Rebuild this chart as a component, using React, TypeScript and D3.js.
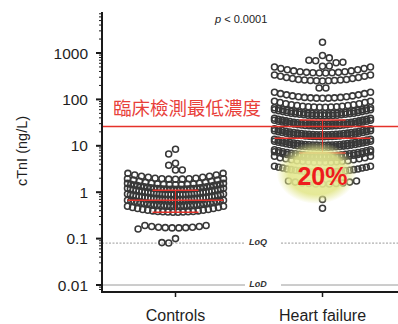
import React from 'react';
import * as d3 from 'd3';

// Categories on the x axis
const groups = ['Controls', 'Heart failure'];

// cTnI readings (ng/L) grouped into rows of identical values, with the number of subjects per row
const controlValues = [8.4, 6.6, 4.2, 3.8, 3.0, 1.9, 1.45, 1.15, 0.9, 0.68, 0.5, 0.37, 0.17, 0.135, 0.1, 0.08];
const controlCounts = [1, 1, 1, 1, 2, 15, 17, 30, 34, 34, 30, 20, 10, 1, 1, 2];
const heartFailureValues = [
  1700, 880, 780, 680, 600, 520, 370, 250, 175, 106, 68,
  49, 44.5, 29, 26.4, 17.3, 15.7, 10.3, 9.3, 6.1, 5.5,
  4.4, 2.7, 1.5, 0.7, 0.45,
];
const heartFailureCounts = [
  1, 1, 1, 2, 2, 2, 16, 17, 2, 17, 18,
  24, 24, 26, 26, 26, 26, 26, 26, 24, 24,
  18, 24, 11, 1, 1,
];

// Summary statistics per group (median with interquartile range)
const medians = [0.67, 14.6];
const lowerQuartiles = [0.37, 7];
const upperQuartiles = [1.1, 36];

// Reference levels
const clinicalCutoff = 26;
const limitOfQuantitation = 0.08;
const limitOfDetection = 0.01;

const yTicks = [0.01, 0.1, 1, 10, 100, 1000];
const yTickLabels = ['0.01', '0.1', '1', '10', '100', '1000'];

const cutoffLabel = '臨床檢測最低濃度';
const shareLabel = '20%';
const pLabel = '< 0.0001';

const WIDTH = 398;
const HEIGHT = 324;
const AXIS_X = 102;
const AXIS_TOP = 12;
const AXIS_BOTTOM = 292;
const RIGHT = 398;

const HALF_WIDTH = 48; // half width of a dot column
const DOT_R = 3;
const MIN_DIST = 6.8;
const CURVE = 6;

const RED = '#e5322a';

type Dot = { x: number; y: number };

function layoutColumn(values: number[], counts: number[], cx: number, y: d3.ScaleLogarithmic<number, number>): Dot[] {
  const placed: Dot[] = [];
  const order = d3.range(values.length).sort((a, b) => values[b] - values[a]);
  for (const idx of order) {
    const n = counts[idx];
    const step = n > 1 ? Math.min(MIN_DIST, (2 * HALF_WIDTH) / (n - 1)) : 0;
    const half = (step * (n - 1)) / 2;
    const offsets = d3.range(n).map((i) => i * step - half);
    const yBase = y(values[idx]);
    const at = (o: number): Dot => ({ x: cx + o, y: yBase - CURVE * Math.pow(o / HALF_WIDTH, 2) });
    const collides = (shift: number) =>
      offsets.some((o) => {
        const p = at(o + shift);
        return placed.some((q) => Math.hypot(p.x - q.x, p.y - q.y) < MIN_DIST * 0.97);
      });
    let chosen = 0;
    const sStep = MIN_DIST / 2;
    if (collides(0)) {
      for (let k = 1; k * sStep + half <= HALF_WIDTH; k++) {
        const dir = idx % 2 === 0 ? 1 : -1;
        if (!collides(dir * k * sStep)) { chosen = dir * k * sStep; break; }
        if (!collides(-dir * k * sStep)) { chosen = -dir * k * sStep; break; }
      }
    }
    offsets.forEach((o) => placed.push(at(o + chosen)));
  }
  return placed;
}

export default function App() {
  const y = d3.scaleLog().domain([0.01, 1000]).range([285, 53]);
  const x = d3.scalePoint<string>().domain(groups).range([AXIS_X, RIGHT - 2]).padding(0.5);

  const columns = [
    layoutColumn(controlValues, controlCounts, x(groups[0])!, y),
    layoutColumn(heartFailureValues, heartFailureCounts, x(groups[1])!, y),
  ];

  const minorTicks: number[] = [];
  for (let e = -3; e <= 4; e++) {
    for (let k = 2; k <= 9; k++) {
      const v = k * Math.pow(10, e);
      const py = y(v);
      if (py >= AXIS_TOP && py <= AXIS_BOTTOM) minorTicks.push(v);
    }
  }

  const hfX = x(groups[1])!;
  const labelX = (x(groups[0])! + hfX) / 2 + 9;

  const refLine = (value: number, label: string, dash?: string) => {
    const py = y(value);
    return (
      <g key={label}>
        <line x1={AXIS_X} x2={labelX - 13} y1={py} y2={py} stroke="#9a9a9a" strokeWidth={1} strokeDasharray={dash} />
        <line x1={labelX + 23} x2={RIGHT} y1={py} y2={py} stroke="#9a9a9a" strokeWidth={1} strokeDasharray={dash} />
        <text x={labelX} y={py + 2} textAnchor="middle" fontSize={9} fontStyle="italic" fontWeight="bold"
          fontFamily="Liberation Sans, Arial, sans-serif" fill="#333">{label}</text>
      </g>
    );
  };

  return (
    <svg width={WIDTH} height={HEIGHT} style={{ position: 'absolute', left: 0, top: 0, background: '#fff' }}
      fontFamily="Liberation Sans, Arial, sans-serif">
      <defs>
        <radialGradient id="glow" cx="50%" cy="50%" r="50%">
          <stop offset="0%" stopColor="rgb(234,238,160)" stopOpacity={0.95} />
          <stop offset="70%" stopColor="rgb(226,230,138)" stopOpacity={0.88} />
          <stop offset="100%" stopColor="rgb(226,230,138)" stopOpacity={0} />
        </radialGradient>
      </defs>

      {/* p value */}
      <text x={215} y={23} fontSize={11} fill="#222">
        <tspan fontStyle="italic">p</tspan> {pLabel}
      </text>

      {/* reference levels */}
      {refLine(limitOfQuantitation, 'LoQ', '2,1.5')}
      {refLine(limitOfDetection, 'LoD')}

      {/* dots */}
      {columns.map((dots, gi) => (
        <g key={groups[gi]}>
          {dots.map((d, i) => (
            <circle key={i} cx={d.x} cy={d.y} r={DOT_R} fill="none" stroke="#383838" strokeWidth={1.55} />
          ))}
        </g>
      ))}

      {/* median and interquartile range */}
      {groups.map((g, gi) => {
        const cx = x(g)!;
        return (
          <g key={g} stroke={RED} strokeWidth={1.5}>
            <line x1={cx - HALF_WIDTH} x2={cx + HALF_WIDTH} y1={y(medians[gi])} y2={y(medians[gi])} />
            <line x1={cx - 23} x2={cx + 23} y1={y(upperQuartiles[gi])} y2={y(upperQuartiles[gi])} />
            <line x1={cx - 23} x2={cx + 23} y1={y(lowerQuartiles[gi])} y2={y(lowerQuartiles[gi])} />
            <line x1={cx} x2={cx} y1={y(upperQuartiles[gi])} y2={y(lowerQuartiles[gi])} strokeWidth={1} />
          </g>
        );
      })}

      {/* clinical cut-off */}
      <line x1={AXIS_X} x2={RIGHT} y1={y(clinicalCutoff)} y2={y(clinicalCutoff)} stroke={RED} strokeWidth={1.6} />
      <text x={113} y={115} fontSize={18.5} fill="#e8403a" fontFamily="Noto Sans CJK TC, Noto Sans CJK SC, sans-serif">
        {cutoffLabel}
      </text>

      {/* highlighted share below the cut-off */}
      <ellipse cx={hfX - 6} cy={y(2.6)} rx={40} ry={31} fill="url(#glow)" />
      <text x={hfX} y={185} textAnchor="middle" fontSize={25} fontWeight="bold" fill="#ee1c1c">{shareLabel}</text>

      {/* y axis */}
      <line x1={AXIS_X} x2={AXIS_X} y1={AXIS_TOP} y2={AXIS_BOTTOM + 1} stroke="#1a1a1a" strokeWidth={2} />
      {minorTicks.map((v) => (
        <line key={v} x1={AXIS_X - 3} x2={AXIS_X} y1={y(v)} y2={y(v)} stroke="#1a1a1a" strokeWidth={1} />
      ))}
      {yTicks.map((v, i) => (
        <g key={v}>
          <line x1={AXIS_X - 6} x2={AXIS_X} y1={y(v)} y2={y(v)} stroke="#1a1a1a" strokeWidth={2} />
          <text x={88} y={y(v) + 5.5} textAnchor="end" fontSize={15.5} fill="#1e1e1e">{yTickLabels[i]}</text>
        </g>
      ))}
      <text transform={`translate(27,${151}) rotate(-90)`} textAnchor="middle" fontSize={14.5} fill="#1e1e1e">cTnI (ng/L)</text>

      {/* x axis */}
      <line x1={AXIS_X - 1} x2={RIGHT} y1={AXIS_BOTTOM} y2={AXIS_BOTTOM} stroke="#1a1a1a" strokeWidth={2} />
      {groups.map((g) => (
        <g key={g}>
          <line x1={x(g)!} x2={x(g)!} y1={AXIS_BOTTOM} y2={AXIS_BOTTOM + 5} stroke="#1a1a1a" strokeWidth={1.5} />
          <text x={x(g)!} y={321} textAnchor="middle" fontSize={16} fill="#1e1e1e">{g}</text>
        </g>
      ))}
    </svg>
  );
}
